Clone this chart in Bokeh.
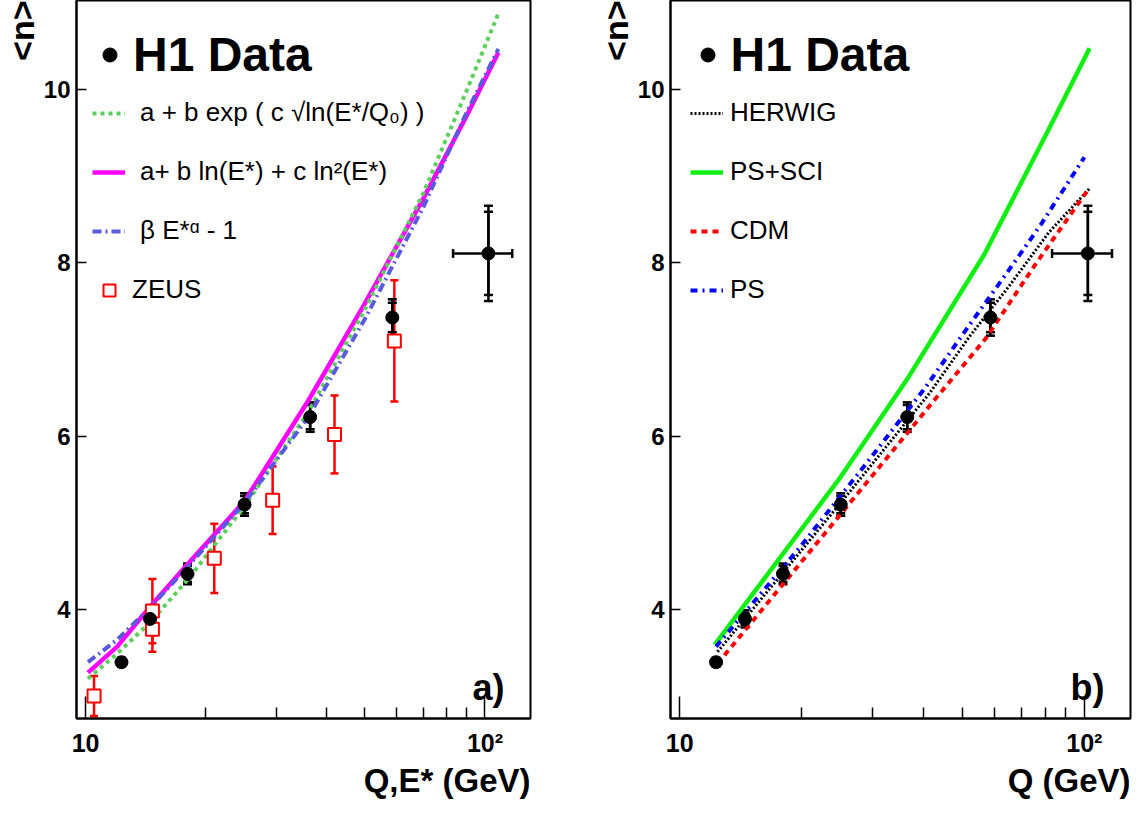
import numpy as np
from bokeh.plotting import figure
from bokeh.models import (Range1d, FixedTicker, ColumnDataSource, Whisker, TeeHead,
                          Legend, LegendItem, Label, Title, CustomJSTickFormatter)
from bokeh.layouts import row
from bokeh.embed import file_html
from bokeh.resources import INLINE

FONT = "Liberation Sans"

# ---------------- data ----------------
# H1 data (both panels)
h1_q = [12.3, 14.5, 18.0, 25.0, 36.5, 58.6, 102.0]
h1_n = [3.39, 3.89, 4.41, 5.21, 6.22, 7.37, 8.11]
h1_err_tot = [0.05, 0.10, 0.12, 0.13, 0.17, 0.21, 0.55]
h1_err_stat = [0.03, 0.07, 0.09, 0.10, 0.14, 0.17, 0.48]
h1_q_lo = [12.3, 14.5, 18.0, 25.0, 36.5, 58.6, 83.2]
h1_q_hi = [12.3, 14.5, 18.0, 25.0, 36.5, 58.6, 117.0]

# ZEUS data (panel a)
zeus_e = [10.5, 14.7, 14.7, 21.0, 29.4, 42.0, 59.3]
zeus_n = [3.00, 3.98, 3.77, 4.59, 5.26, 6.02, 7.10]
zeus_err = [0.23, 0.37, 0.26, 0.40, 0.39, 0.45, 0.70]

# Fits (panel a)
fit_e = [10.14, 12.0, 14.5, 18.0, 25.0, 36.0, 50.0, 70.0, 90.0, 108.0]
fit_exp = [3.20, 3.49, 3.85, 4.34, 5.19, 6.27, 7.46, 8.80, 9.99, 10.88]
fit_quad = [3.27, 3.57, 4.03, 4.52, 5.25, 6.40, 7.53, 8.74, 9.70, 10.43]
fit_pow = [3.39, 3.65, 4.02, 4.49, 5.23, 6.21, 7.35, 8.64, 9.74, 10.47]

# Models (panel b)
herwig_q = [12.4, 25.0, 41.5, 52.0, 65.1, 81.6, 103.0]
herwig_n = [3.51, 5.23, 6.50, 7.15, 7.73, 8.35, 8.86]
pssci_q = [12.2, 25.0, 36.4, 56.6, 81.6, 103.0]
pssci_n = [3.59, 5.53, 6.65, 8.10, 9.54, 10.48]
cdm_q = [12.9, 25.0, 43.0, 57.1, 75.6, 103.0]
cdm_n = [3.47, 5.10, 6.44, 7.13, 7.98, 8.87]
ps_q = [12.3, 19.6, 28.2, 40.3, 51.4, 67.0, 78.5, 100.0]
ps_n = [3.57, 4.69, 5.62, 6.55, 7.25, 8.00, 8.46, 9.22]

labels_a = ["a + b exp ( c \u221aln(E*/Q\u2080) )", "a+ b ln(E*) + c ln\u00b2(E*)",
            "\u03b2 E*\u1d45 - 1", "ZEUS"]
labels_b = ["HERWIG", "PS+SCI", "CDM", "PS"]

X_RANGE = (9.49, 130.0)
Y_RANGE = (2.74, 11.03)


def make_fig(width, border_left, border_right, ylabel, xlabel):
    p = figure(width=width, height=800, x_axis_type="log",
               x_range=Range1d(*X_RANGE), y_range=Range1d(*Y_RANGE),
               output_backend="svg", toolbar_location=None,
               min_border_left=border_left, min_border_right=border_right,
               min_border_top=0, min_border_bottom=82)
    p.xgrid.visible = False
    p.ygrid.visible = False
    p.outline_line_color = "black"
    p.outline_line_width = 2
    p.background_fill_color = "white"
    p.border_fill_color = "white"

    xa = p.xaxis[0]
    xa.ticker = FixedTicker(ticks=[10, 100], minor_ticks=[20, 30, 40, 50, 60, 70, 80, 90])
    xa.formatter = CustomJSTickFormatter(code="return tick < 50 ? '10' : '10\u00b2';")
    xa.major_tick_in = 22
    xa.major_tick_out = 0
    xa.minor_tick_in = 11
    xa.minor_tick_out = 0
    xa.major_tick_line_width = 1.5
    xa.minor_tick_line_width = 1.5
    xa.axis_line_width = 2
    xa.major_label_text_font = FONT
    xa.major_label_text_font_style = "bold"
    xa.major_label_text_font_size = "25px"
    xa.major_label_text_color = "black"
    xa.major_label_standoff = 10

    ya = p.yaxis[0]
    ya.ticker = FixedTicker(ticks=[4, 6, 8, 10], minor_ticks=[])
    ya.major_tick_in = 10
    ya.major_tick_out = 0
    ya.minor_tick_in = 0
    ya.minor_tick_out = 0
    ya.major_tick_line_width = 1.5
    ya.axis_line_width = 2
    ya.major_label_text_font = FONT
    ya.major_label_text_font_style = "bold"
    ya.major_label_text_font_size = "24px"
    ya.major_label_text_color = "black"
    ya.major_label_standoff = 6

    p.add_layout(Title(text=ylabel, align="right", text_font=FONT, text_font_style="bold",
                       text_font_size="34px", text_color="black", standoff=0, offset=0),
                 "left")
    p.add_layout(Title(text=xlabel, align="right", text_font=FONT, text_font_style="bold",
                       text_font_size="33px", text_color="black", standoff=0, offset=0),
                 "below")
    return p


def add_h1(p):
    src = ColumnDataSource(dict(
        x=h1_q, y=h1_n,
        up=[a + b for a, b in zip(h1_n, h1_err_tot)],
        lo=[a - b for a, b in zip(h1_n, h1_err_tot)],
        sup=[a + b for a, b in zip(h1_n, h1_err_stat)],
        slo=[a - b for a, b in zip(h1_n, h1_err_stat)],
    ))
    for u, l in (("up", "lo"), ("sup", "slo")):
        w = Whisker(base="x", upper=u, lower=l, source=src, level="underlay",
                    line_color="black", line_width=2.5,
                    upper_head=TeeHead(size=9, line_color="black", line_width=2.5),
                    lower_head=TeeHead(size=9, line_color="black", line_width=2.5))
        p.add_layout(w)
    idx = [i for i in range(len(h1_q)) if h1_q_hi[i] > h1_q_lo[i]]
    hsrc = ColumnDataSource(dict(y=[h1_n[i] for i in idx],
                                 lo=[h1_q_lo[i] for i in idx],
                                 hi=[h1_q_hi[i] for i in idx]))
    wh = Whisker(base="y", upper="hi", lower="lo", dimension="width", source=hsrc,
                 level="underlay", line_color="black", line_width=2.5,
                 upper_head=TeeHead(size=9, line_color="black", line_width=2.5),
                 lower_head=TeeHead(size=9, line_color="black", line_width=2.5))
    p.add_layout(wh)
    r = p.scatter("x", "y", source=src, marker="circle", size=13,
                  fill_color="black", line_color="black")
    return r


def legend_common(leg):
    leg.padding = 0
    leg.margin = 0
    leg.border_line_alpha = 0
    leg.background_fill_alpha = 0
    leg.label_text_font = FONT
    leg.label_text_color = "black"


def h1_legend(p, renderer, vx):
    leg = Legend(items=[LegendItem(label="H1 Data", renderers=[renderer])],
                 location=(vx, 636), glyph_width=35, glyph_height=35, label_height=35,
                 label_standoff=6)
    legend_common(leg)
    leg.label_text_font_size = "48px"
    leg.label_text_font_style = "bold"
    p.add_layout(leg)


# ---------------- panel a ----------------
pa = make_fig(566, 66, 36, "<n>", "Q,E* (GeV)")

r_quad = pa.line(fit_e, fit_quad, line_color="#ff00ff", line_width=4.5)
r_exp = pa.line(fit_e, fit_exp, line_color="#5ccf5c", line_width=4, line_dash="4 4")
r_pow = pa.line(fit_e, fit_pow, line_color="#5a5adc", line_width=4, line_dash="9 4 2 4")

zsrc = ColumnDataSource(dict(x=zeus_e, y=zeus_n,
                             up=[a + b for a, b in zip(zeus_n, zeus_err)],
                             lo=[a - b for a, b in zip(zeus_n, zeus_err)]))
pa.add_layout(Whisker(base="x", upper="up", lower="lo", source=zsrc, level="underlay",
                      line_color="red", line_width=2.5,
                      upper_head=TeeHead(size=8, line_color="red", line_width=2.5),
                      lower_head=TeeHead(size=8, line_color="red", line_width=2.5)))
r_zeus = pa.scatter("x", "y", source=zsrc, marker="square", size=13,
                    fill_color="white", line_color="red", line_width=2)

r_h1a = add_h1(pa)
h1_legend(pa, r_h1a, 16)

leg_a = Legend(items=[LegendItem(label=labels_a[0], renderers=[r_exp]),
                      LegendItem(label=labels_a[1], renderers=[r_quad]),
                      LegendItem(label=labels_a[2], renderers=[r_pow])],
               location=(16, 472), glyph_width=33, glyph_height=30, label_height=30,
               spacing=28, label_standoff=15)
legend_common(leg_a)
leg_a.label_text_font_size = "26px"
pa.add_layout(leg_a)

leg_z = Legend(items=[LegendItem(label=labels_a[3], renderers=[r_zeus])],
               location=(18, 413), glyph_width=30, glyph_height=30, label_height=30,
               label_standoff=8)
legend_common(leg_z)
leg_z.label_text_font_size = "26px"
pa.add_layout(leg_z)

pa.add_layout(Label(x=428, y=31, x_units="screen", y_units="screen", text="a)",
                    text_align="right", text_baseline="alphabetic", text_color="black",
                    text_font=FONT, text_font_style="bold", text_font_size="36px"))

# ---------------- panel b ----------------
pb = make_fig(566, 104, 2, "<n>", "Q (GeV)")

r_pssci = pb.line(pssci_q, pssci_n, line_color="#11ee11", line_width=4.5)
r_herwig = pb.line(herwig_q, herwig_n, line_color="black", line_width=3, line_dash="2 2")
r_cdm = pb.line(cdm_q, cdm_n, line_color="#ff0000", line_width=4, line_dash="6 5")
r_ps = pb.line(ps_q, ps_n, line_color="#0000ff", line_width=4, line_dash="7 5 2 5")

r_h1b = add_h1(pb)
h1_legend(pb, r_h1b, 19.5)

leg_b = Legend(items=[LegendItem(label=labels_b[0], renderers=[r_herwig]),
                      LegendItem(label=labels_b[1], renderers=[r_pssci]),
                      LegendItem(label=labels_b[2], renderers=[r_cdm]),
                      LegendItem(label=labels_b[3], renderers=[r_ps])],
               location=(20, 413), glyph_width=33, glyph_height=30, label_height=30,
               spacing=28, label_standoff=7)
legend_common(leg_b)
leg_b.label_text_font_size = "26px"
pb.add_layout(leg_b)

pb.add_layout(Label(x=434, y=31, x_units="screen", y_units="screen", text="b)",
                    text_align="right", text_baseline="alphabetic", text_color="black",
                    text_font=FONT, text_font_style="bold", text_font_size="36px"))

layout = row(pa, pb)
open("out.html", "w").write(file_html(layout, INLINE))
